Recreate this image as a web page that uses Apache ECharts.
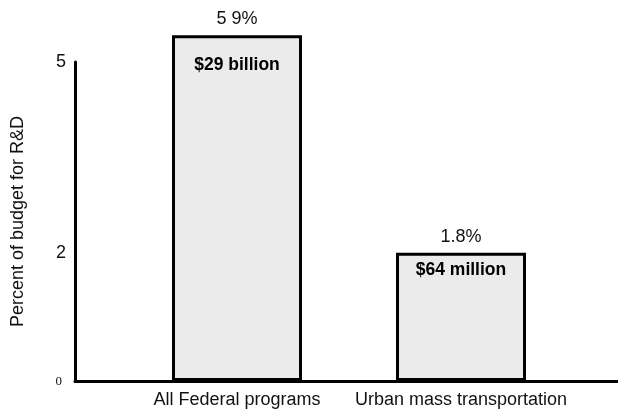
<!DOCTYPE html>
<html>
<head>
<meta charset="utf-8">
<script src="https://cdn.jsdelivr.net/npm/echarts@6/dist/echarts.min.js"></script>
<style>html,body{margin:0;padding:0;background:#fff;}#c{width:618px;height:416px;}</style>
</head>
<body>
<div id="c"></div>
<script>
// Data
var categories = ['All Federal programs', 'Urban mass transportation'];
var barHeights = [5.42, 2.01];          // heights measured on the drawn axis scale
var percentLabels = ['5 9%', '1.8%'];   // printed labels above bars
var amountLabels = ['$29 billion', '$64 million'];
var yTickLabels = [0, 2, 5];

var FONT = "'Liberation Sans', Arial, sans-serif";
var insideDistances = [21, 8];
var chart = echarts.init(document.getElementById('c'), null, {renderer: 'canvas'});

var barData = barHeights.map(function (v, i) {
  return {value: v, label: {distance: insideDistances[i]}};
});

var option = {
  backgroundColor: '#ffffff',
  animation: false,
  grid: [
    {left: 75, right: 0, top: 62, bottom: 35},
    {left: 125, right: 45, top: 62, bottom: 35}
  ],
  xAxis: [
    {gridIndex: 0, type: 'value', min: 0, max: 1,
     axisLine: {show: true, onZero: false, lineStyle: {color: '#000', width: 3}},
     axisTick: {show: false}, axisLabel: {show: false}, splitLine: {show: false}},
    {gridIndex: 1, type: 'category', data: categories,
     axisLine: {show: false}, axisTick: {show: false}, splitLine: {show: false},
     axisLabel: {show: true, interval: 0, color: '#111', fontFamily: FONT, fontSize: 18, margin: 10}}
  ],
  yAxis: [
    {gridIndex: 0, type: 'value', min: 0, max: 5, interval: 1,
     axisLine: {show: true, lineStyle: {color: '#000', width: 3}},
     axisTick: {show: false}, splitLine: {show: false},
     axisLabel: {
       show: true, margin: 9, color: '#111', fontFamily: FONT, fontSize: 18,
       formatter: function (v) {
         if (yTickLabels.indexOf(v) < 0) return '';
         return v === 0 ? '{s|' + v + '}' : String(v);
       },
       rich: {s: {fontSize: 13, fontFamily: "'Liberation Serif', serif", color: '#111', padding: [2, 4, 0, 0]}}
     },
     name: 'Percent of budget for R&D', nameLocation: 'middle', nameGap: 48,
     nameTextStyle: {fontFamily: FONT, fontSize: 18, color: '#111'}},
    {gridIndex: 1, type: 'value', min: 0, max: 5, show: false}
  ],
  series: [
    {
      type: 'bar', xAxisIndex: 1, yAxisIndex: 1, data: barData, barWidth: 130, clip: false,
      itemStyle: {color: '#ebebeb', borderColor: '#000', borderWidth: 3},
      label: {show: true, position: 'insideTop',
        formatter: function (p) { return amountLabels[p.dataIndex]; },
        fontFamily: FONT, fontWeight: 'bold', fontSize: 17.5, color: '#000'}
    },
    {
      type: 'bar', xAxisIndex: 1, yAxisIndex: 1, data: barHeights, barWidth: 130, barGap: '-100%', clip: false,
      itemStyle: {color: 'rgba(0,0,0,0)'}, silent: true,
      label: {show: true, position: 'top', distance: 7,
        formatter: function (p) { return percentLabels[p.dataIndex]; },
        fontFamily: FONT, fontSize: 18, color: '#111'}
    }
  ]
};
chart.setOption(option);
</script>
</body>
</html>
